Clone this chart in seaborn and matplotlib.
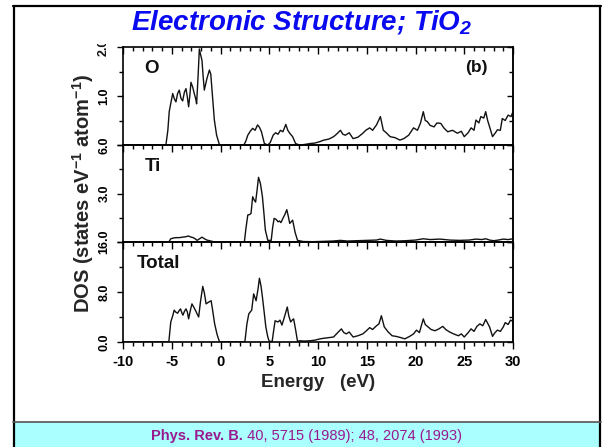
import matplotlib
matplotlib.use("Agg")
import matplotlib.pyplot as plt
import seaborn as sns
from matplotlib.ticker import MultipleLocator, FixedLocator
from matplotlib.transforms import Bbox, TransformedBbox
from matplotlib.patches import Rectangle
from matplotlib.lines import Line2D

# ---------------- data ----------------
PANELS = ["O", "Ti", "Total"]

o_energy = [-10.0, -5.6, -5.4, -5.26, -5.1, -4.9, -4.75, -4.57, -4.4, -4.23,
            -4.05, -3.88, -3.7, -3.54, -3.4, -3.27, -3.15, -3.03, -2.85, -2.69,
            -2.55, -2.45, -2.3, -2.17, -2.05, -1.9, -1.78, -1.66, -1.4, -1.14,
            -1.0, -0.87, -0.63, -0.4, -0.1, 2.4, 2.6, 2.8, 3.05, 3.3,
            3.55, 3.8, 4.0, 4.2, 4.5, 4.85, 5.1, 5.4, 5.65, 5.9,
            6.15, 6.4, 6.7, 6.9, 7.1, 7.4, 7.7, 8.1, 8.6, 9.2,
            9.7, 10.2, 10.6, 11.1, 11.6, 11.9, 12.3, 12.55, 12.8, 13.2,
            13.6, 14.1, 14.6, 14.9, 15.3, 15.6, 16.0, 16.4, 16.7, 17.0,
            17.4, 17.9, 18.4, 18.8, 19.3, 19.8, 20.2, 20.5, 20.8, 21.0,
            21.2, 21.5, 21.9, 22.2, 22.6, 22.9, 23.3, 23.8, 24.3, 24.7,
            25.0, 25.4, 25.7, 26.0, 26.2, 26.5, 26.7, 27.0, 27.2, 27.4,
            27.6, 27.9, 28.2, 28.4, 28.7, 28.9, 29.2, 29.5, 29.8, 30.0]
o_dos = [0.0, 0.0, 0.3, 0.68, 0.85, 1.05, 0.95, 0.88, 1.05, 1.12,
         0.95, 0.9, 1.08, 1.15, 0.98, 0.78, 1.0, 1.28, 1.18, 1.05,
         0.95, 0.84, 1.4, 1.96, 1.85, 1.73, 1.4, 1.12, 1.35, 1.53,
         1.45, 1.12, 0.51, 0.2, 0.0, 0.0, 0.08, 0.2, 0.28, 0.34,
         0.3, 0.41, 0.36, 0.27, 0.03, 0.0, 0.05, 0.2, 0.25, 0.22,
         0.3, 0.27, 0.42, 0.3, 0.24, 0.17, 0.03, 0.0, 0.01, 0.03,
         0.04, 0.07, 0.1, 0.12, 0.17, 0.22, 0.3, 0.22, 0.2, 0.25,
         0.13, 0.16, 0.24, 0.3, 0.35, 0.3, 0.41, 0.58, 0.3, 0.25,
         0.17, 0.15, 0.1, 0.13, 0.2, 0.35, 0.3, 0.44, 0.68, 0.5,
         0.48, 0.4, 0.37, 0.45, 0.44, 0.35, 0.27, 0.3, 0.24, 0.28,
         0.17, 0.25, 0.35, 0.3, 0.51, 0.45, 0.58, 0.55, 0.68, 0.5,
         0.37, 0.17, 0.25, 0.31, 0.3, 0.54, 0.5, 0.61, 0.58, 0.68]

ti_energy = [-10.0, -5.3, -5.1, -4.8, -4.5, -4.2, -3.9, -3.6, -3.3, -3.0,
             -2.8, -2.6, -2.4, -2.15, -1.9, -1.65, -1.4, -1.0, -0.6, 0.0,
             2.45, 2.6, 2.8, 3.0, 3.13, 3.3, 3.45, 3.6, 3.75, 3.9,
             4.1, 4.3, 4.45, 4.6, 4.85, 5.2, 5.35, 5.5, 5.7, 5.9,
             6.05, 6.2, 6.4, 6.6, 6.8, 6.95, 7.1, 7.25, 7.4, 7.65,
             7.9, 8.5, 9.5, 10.5, 11.5, 12.3, 13.0, 14.0, 15.0, 16.0,
             16.4, 17.0, 18.0, 19.0, 20.0, 20.8, 21.5, 22.5, 23.5, 24.5,
             25.5, 26.2, 26.8, 27.2, 27.6, 28.0, 28.5, 29.0, 29.5, 30.0]
ti_dos = [0.0, 0.0, 0.2, 0.25, 0.27, 0.27, 0.3, 0.32, 0.37, 0.3,
          0.27, 0.2, 0.1, 0.2, 0.3, 0.2, 0.12, 0.06, 0.0, 0.0,
          0.0, 0.8, 1.67, 1.7, 1.77, 2.8, 2.6, 2.47, 3.2, 4.0,
          3.6, 2.8, 1.8, 0.74, 0.1, 0.1, 0.9, 1.46, 1.4, 1.25,
          1.3, 1.2, 1.46, 1.7, 2.0, 1.6, 1.15, 1.25, 1.35, 0.6,
          0.1, 0.03, 0.02, 0.04, 0.06, 0.1, 0.06, 0.08, 0.1, 0.12,
          0.18, 0.1, 0.06, 0.08, 0.12, 0.2, 0.15, 0.18, 0.12, 0.1,
          0.12, 0.18, 0.15, 0.2, 0.12, 0.08, 0.12, 0.18, 0.15, 0.2]

tot_energy = [-10.0, -5.3, -5.1, -4.9, -4.75, -4.6, -4.4, -4.25, -4.1, -3.95,
              -3.85, -3.7, -3.54, -3.4, -3.27, -3.1, -2.93, -2.75, -2.58, -2.4,
              -2.24, -2.05, -1.82, -1.65, -1.48, -1.2, -0.96, -0.8, -0.6, -0.35,
              -0.1, 2.5, 2.7, 2.9, 3.2, 3.4, 3.65, 3.85, 3.99, 4.15,
              4.3, 4.5, 4.65, 4.85, 5.0, 5.3, 5.45, 5.6, 5.9, 6.1,
              6.3, 6.5, 6.85, 7.0, 7.2, 7.35, 7.5, 7.7, 7.9, 8.1,
              8.6, 9.2, 9.7, 10.2, 10.6, 11.1, 11.6, 11.9, 12.4, 12.65,
              12.9, 13.2, 13.6, 14.1, 14.6, 14.9, 15.3, 15.6, 16.0, 16.25,
              16.5, 16.8, 17.2, 17.6, 18.0, 18.5, 18.9, 19.4, 19.8, 20.1,
              20.4, 20.8, 21.0, 21.3, 21.6, 22.0, 22.4, 22.8, 23.1, 23.5,
              23.9, 24.4, 24.7, 25.0, 25.4, 25.7, 26.0, 26.3, 26.6, 26.9,
              27.2, 27.4, 27.6, 27.9, 28.1, 28.4, 28.7, 29.0, 29.2, 29.5,
              29.75, 30.0]
tot_dos = [0.0, 0.0, 3.2, 4.2, 5.1, 4.8, 4.6, 5.0, 5.3, 4.6,
           4.3, 4.9, 5.3, 4.8, 3.7, 5.0, 6.1, 5.6, 5.1, 4.5,
           4.0, 6.5, 8.9, 7.8, 6.1, 6.4, 6.6, 5.0, 2.9, 1.2,
           0.0, 0.0, 2.8, 4.5, 5.1, 7.7, 6.6, 8.5, 10.2, 9.0,
           7.2, 4.5, 2.4, 0.8, 0.1, 0.1, 1.8, 3.4, 3.2, 3.5,
           2.7, 3.7, 5.6, 4.2, 3.2, 3.5, 3.7, 2.0, 0.1, 0.2,
           0.15, 0.2, 0.3, 0.5, 0.6, 0.7, 0.8, 1.3, 2.1, 1.5,
           1.3, 1.6, 0.8, 1.0, 1.3, 1.7, 2.3, 2.0, 2.6, 2.9,
           4.2, 2.4, 1.6, 1.0, 0.9, 0.7, 0.5, 0.9, 1.3, 1.9,
           1.5, 3.7, 2.8, 2.4, 2.0, 1.8, 2.1, 2.5, 2.0, 1.6,
           1.3, 1.0, 1.3, 0.8, 1.5, 2.1, 1.7, 2.5, 2.9, 2.6,
           3.6, 3.0, 2.4, 0.9, 1.4, 1.9, 1.7, 2.4, 3.1, 2.8,
           3.5, 3.3]

y_max = [2.0, 6.0, 16.0]
y_ticks = [[0.0, 1.0, 2.0], [0.0, 3.0, 6.0], [0.0, 8.0, 16.0]]
y_ticklabels = [["", "1.0", ""], ["", "3.0", "6.0"], ["0.0", "8.0", "16.0"]]
x_ticks = [-10, -5, 0, 5, 10, 15, 20, 25, 30]
x_ticklabels = ["-10", "-5", "0", "5", "10", "15", "20", "25", "30"]

TITLE = r"Electronic Structure; TiO$_\mathbfit{2}$"
REF_BOLD = "Phys. Rev. B."
REF_REST = " 40, 5715 (1989); 48, 2074 (1993)"

# ---------------- style ----------------
sns.set_theme(style="ticks")
plt.rcParams['font.family'] = ['Liberation Sans', 'DejaVu Sans']
plt.rcParams['mathtext.fontset'] = 'custom'
plt.rcParams['mathtext.rm'] = 'Liberation Sans'
plt.rcParams['mathtext.bf'] = 'Liberation Sans:bold'
plt.rcParams['mathtext.it'] = 'Liberation Sans:italic'
plt.rcParams['mathtext.bfit'] = 'Liberation Sans:italic:bold'
plt.rcParams['axes.unicode_minus'] = False

W, H = 602, 447
fig = plt.figure(figsize=(W / 100, H / 100), dpi=100)
fig.patch.set_facecolor('white')

def fx(px):
    return px / W

def fy(py):
    return 1 - py / H

LEFT, RIGHT = 123, 513
edges = [47, 145, 242, 342]
series = [(o_energy, o_dos), (ti_energy, ti_dos), (tot_energy, tot_dos)]
label_pos = [(0.055, 0.78), (0.055, 0.78), (0.035, 0.78)]
axes = []
for i in range(3):
    ax = fig.add_axes([fx(LEFT), fy(edges[i + 1]), fx(RIGHT - LEFT),
                       (edges[i + 1] - edges[i]) / H])
    e, d = series[i]
    sns.lineplot(x=e, y=d, ax=ax, color='#111111', linewidth=1.0,
                 estimator=None, sort=False, legend=False)
    ax.set_xlim(-10, 30)
    ax.set_ylim(0, y_max[i])
    for s in ax.spines.values():
        s.set_linewidth(1.2)
        s.set_color('black')
        s.set_visible(True)
    ax.set_facecolor('none')
    ax.set_xlabel("")
    ax.set_ylabel("")
    ax.xaxis.set_major_locator(FixedLocator(x_ticks))
    ax.xaxis.set_minor_locator(MultipleLocator(1))
    ax.yaxis.set_major_locator(FixedLocator(y_ticks[i]))
    ax.yaxis.set_minor_locator(MultipleLocator(y_max[i] / 4))
    ax.set_yticklabels(y_ticklabels[i], rotation=90, va='center',
                       fontsize=9, fontweight='bold')
    ax.tick_params(axis='y', which='both', left=True, right=False,
                   direction='out', width=1.0, colors='black', pad=4.5)
    ax.tick_params(axis='y', which='major', length=4.5)
    ax.tick_params(axis='y', which='minor', length=3)
    # right side inward ticks
    sec = ax.secondary_yaxis('right')
    sec.yaxis.set_major_locator(FixedLocator(y_ticks[i]))
    sec.yaxis.set_minor_locator(MultipleLocator(y_max[i] / 4))
    sec.tick_params(axis='y', which='both', direction='in', labelright=False,
                    width=1.0, colors='black')
    sec.tick_params(axis='y', which='major', length=4.5)
    sec.tick_params(axis='y', which='minor', length=3)
    sec.spines['right'].set_linewidth(1.2)
    if i < 2:
        ax.tick_params(axis='x', which='both', top=True, bottom=False,
                       direction='in', labelbottom=False, labeltop=False,
                       width=1.0, colors='black')
        ax.tick_params(axis='x', which='major', length=5)
        ax.tick_params(axis='x', which='minor', length=3)
    else:
        ax.tick_params(axis='x', which='both', top=False, bottom=True,
                       direction='out', width=1.0, colors='black', pad=4)
        ax.tick_params(axis='x', which='major', length=5)
        ax.tick_params(axis='x', which='minor', length=3)
        ax.set_xticklabels(x_ticklabels, fontsize=10.5, fontweight='bold')
        secx = ax.secondary_xaxis('top')
        secx.xaxis.set_major_locator(FixedLocator(x_ticks))
        secx.xaxis.set_minor_locator(MultipleLocator(1))
        secx.tick_params(axis='x', which='both', direction='in',
                         labeltop=False, width=1.0, colors='black')
        secx.tick_params(axis='x', which='major', length=5)
        secx.tick_params(axis='x', which='minor', length=3)
    ax.text(label_pos[i][0], label_pos[i][1], PANELS[i],
            transform=ax.transAxes, fontsize=13.5, fontweight='bold',
            ha='left', va='center', color='#111111')
    axes.append(ax)

axes[0].text(0.905, 0.79, "(b)", transform=axes[0].transAxes, fontsize=12.5,
             fontweight='bold', ha='center', va='center', color='#111111')

# clipped top tick label "2.0" of the O panel (cut off in the scan)
clip = TransformedBbox(Bbox([[0, 0], [1, fy(43.5)]]), fig.transFigure)
t2 = fig.text(fx(104), fy(47), "2.0", rotation=90, ha='center', va='center',
              fontsize=9, fontweight='bold', color='#111111')
t2.set_clip_on(True)
t2.set_clip_box(clip)

axes[1].set_ylabel(r"DOS (states eV$^{\mathbf{-1}}$ atom$^{\mathbf{-1}}$)",
                   fontsize=14.5, fontweight='bold')
axes[1].yaxis.set_label_coords((96 - LEFT) / (RIGHT - LEFT), 0.5)
axes[2].set_xlabel("Energy   (eV)", fontsize=13.5, fontweight='bold')
axes[2].xaxis.set_label_coords(0.5, -0.32)

# title
fig.text(fx(302), fy(22.5), TITLE, ha='center', va='center', fontsize=20,
         fontweight='bold', fontstyle='italic', color='#0a0af0')

# page frame
for (x0, y0, x1, y1) in [(14, 6, 14, 447), (13, 6, 601, 6), (600, 6, 600, 447)]:
    fig.add_artist(Line2D([fx(x0), fx(x1)], [fy(y0), fy(y1)],
                          transform=fig.transFigure, color='black', lw=1.6))

# footer box
fig.add_artist(Rectangle((fx(14), 0), fx(600) - fx(14), fy(422),
                         transform=fig.transFigure, facecolor='#aaffff',
                         edgecolor='none', zorder=1))
fig.add_artist(Line2D([fx(13), fx(601)], [fy(422), fy(422)],
                      transform=fig.transFigure, color='#555555', lw=1.2))
fig.text(fx(243), fy(436), REF_BOLD, ha='right', va='center', fontsize=10.5,
         fontweight='bold', color='#99198f')
fig.text(fx(243), fy(436), REF_REST, ha='left', va='center', fontsize=10.5,
         color='#99198f')

fig.savefig("out.png", dpi=100)
